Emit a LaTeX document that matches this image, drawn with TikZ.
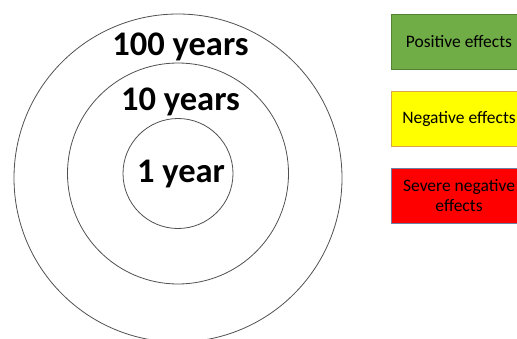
\documentclass[tikz,border=0pt]{standalone}
\usepackage{fontspec}
\setmainfont{Carlito}
\definecolor{ringcol}{HTML}{505050}
\definecolor{posfill}{HTML}{70AD47}
\definecolor{posdraw}{HTML}{548235}
\definecolor{negfill}{HTML}{FFFF00}
\definecolor{negdraw}{HTML}{D6A84A}
\definecolor{sevfill}{HTML}{FF0000}
\definecolor{sevdraw}{HTML}{6F7FA0}
\begin{document}
\begin{tikzpicture}[x=1pt,y=-1pt,
  ring/.style={draw=ringcol,line width=0.8pt},
  yearlabel/.style={anchor=base,inner sep=0pt,font=\fontsize{34.5}{40}\selectfont\bfseries},
  effbox/.style={minimum width=136pt,minimum height=55pt,inner sep=0pt,line width=0.9pt,align=center,font=\fontsize{17.5}{20}\selectfont}]
\useasboundingbox (0,0) rectangle (517,338);
\draw[ring] (178,178) circle (164);
\draw[ring] (178,173.5) circle (110.5);
\draw[ring] (178,173.5) circle (55);
\node[yearlabel] (hundred) at (180.5,55) {100 years};
\node[yearlabel] (ten) at (180.5,110) {10 years};
\node[yearlabel] (one) at (181,182) {1 year};
\node[effbox,fill=posfill,draw=posdraw] (pos) at (459,41.5) {Positive effects};
\node[effbox,fill=negfill,draw=negdraw] (neg) at (459,119) {Negative effects};
\node[effbox,fill=sevfill,draw=sevdraw] (sev) at (459,195.5) {Severe negative\\effects};
\end{tikzpicture}
\end{document}
